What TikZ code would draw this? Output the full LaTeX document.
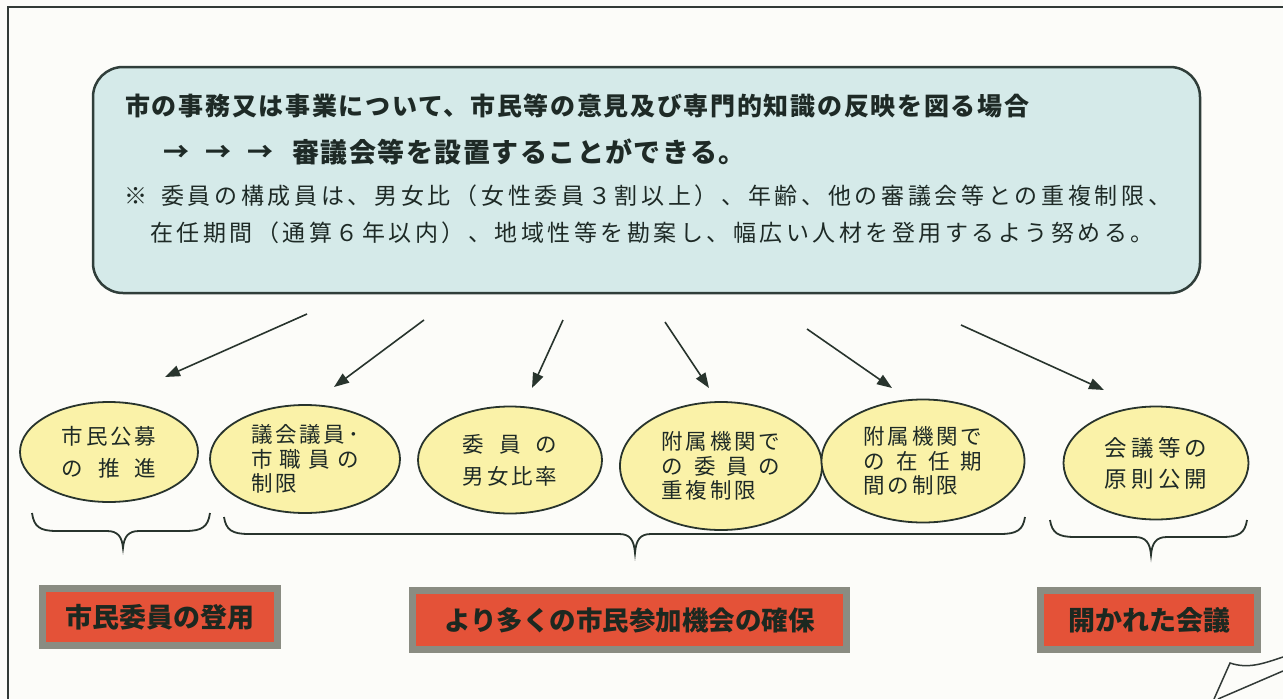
\documentclass[tikz,border=0pt]{standalone}
\usepackage{fontspec}
\usepackage{calc}
\usetikzlibrary{arrows.meta,shapes.geometric}
\newfontfamily\jp{Noto Sans CJK JP}
\newfontfamily\jpA[LetterSpace=6.8]{Noto Sans CJK JP}
\newfontfamily\jpB[LetterSpace=5.5]{Noto Sans CJK JP}
\newfontfamily\jpC[LetterSpace=16]{Noto Sans CJK JP}
\newfontfamily\jpD[LetterSpace=15.2]{Noto Sans CJK JP}
\newfontfamily\jpE[LetterSpace=13]{Noto Sans CJK JP}
\newfontfamily\jpF[LetterSpace=18]{Noto Sans CJK JP}
\newcommand\jrow[2]{\makebox[\widthof{#1}][s]{#2}}
\definecolor{bg}{RGB}{252,252,249}
\definecolor{frame}{RGB}{50,58,55}
\definecolor{topfill}{RGB}{213,234,233}
\definecolor{topline}{RGB}{48,62,58}
\definecolor{ellfill}{RGB}{250,242,168}
\definecolor{ellline}{RGB}{40,52,45}
\definecolor{boxfill}{RGB}{228,82,56}
\definecolor{boxline}{RGB}{138,140,130}
\definecolor{boxtext}{RGB}{28,40,32}
\definecolor{txt}{RGB}{30,42,38}
\newcommand\mybrace[6]{\draw[bracel] (#1,#3) .. controls (#1+2,#4-4) and (#1+8,#4) .. (#1+25,#4) -- (#5-16,#4) .. controls (#5-5,#4) and (#5-1,#4+6) .. (#5,#6) .. controls (#5+1,#4+6) and (#5+5,#4) .. (#5+16,#4) -- (#2-25,#4) .. controls (#2-8,#4) and (#2-2,#4-4) .. (#2,#3);}
\begin{document}
\begin{tikzpicture}[x=1pt,y=-1pt,
  topbox/.style={draw=topline, line width=2.5pt, fill=topfill, rounded corners=30pt, inner sep=0pt},
  ttext/.style={anchor=west, inner sep=0pt, text=txt},
  ellA/.style={ellipse, draw=ellline, line width=1.8pt, fill=ellfill, inner sep=0pt, align=left, text=txt, font=\fontsize{21.5pt}{32pt}\jpE},
  ellB/.style={ellipse, draw=ellline, line width=1.8pt, fill=ellfill, inner sep=0pt, align=left, text=txt, font=\fontsize{21.5pt}{24.5pt}\jpE},
  conn/.style={draw=ellline, line width=1.6pt, -{Triangle[length=15pt,width=11pt]}},
  bracel/.style={draw=ellline, line width=1.8pt},
  resultbox/.style={draw=boxline, line width=7pt, fill=boxfill, inner sep=0pt, text=boxtext, font=\fontsize{27pt}{30pt}\jp\bfseries},
  curl/.style={draw=frame, line width=1.5pt}
]
\path[fill=bg] (0,0) rectangle (1283,699);
\useasboundingbox (0,0) rectangle (1283,699);
\draw[draw=frame, line width=1.8pt] (8,699) -- (8,7) -- (1283,7);

\node[topbox, minimum width=1107pt, minimum height=226pt] (top) at (646.5,180) {};
\node[ttext] (t1) at (125,106) {\fontsize{25pt}{30pt}\jpA\bfseries 市の事務又は事業について、市民等の意見及び専門的知識の反映を図る場合};
\node[ttext] (t2a) at (163,153) {\fontsize{26pt}{30pt}\jp\bfseries →\hspace{16pt}→\hspace{16pt}→};
\node[ttext] (t2) at (292,152) {\fontsize{27pt}{30pt}\jpB\bfseries 審議会等を設置することができる。};
\node[ttext] (t3) at (124,196) {\fontsize{23pt}{26pt}\jpC ※\hspace{14pt}委員の構成員は、男女比（女性委員３割以上）、年齢、他の審議会等との重複制限、};
\node[ttext] (t4) at (150,233) {\fontsize{23pt}{26pt}\jpD 在任期間（通算６年以内）、地域性等を勘案し、幅広い人材を登用するよう努める。};

\node[ellA, minimum width=178pt, minimum height=100pt] (e1) at (109,452) {市民公募\\\jrow{市民公募}{の\hfill 推\hfill 進}};
\node[ellB, minimum width=190pt, minimum height=108pt] (e2) at (305,459) {議会議員･\\\jrow{議会議員･}{市\hfill 職\hfill 員\hfill の}\\制限};
\node[ellA, minimum width=184pt, minimum height=107pt] (e3) at (510,460) {\jrow{男女比率}{委\hfill 員\hfill の}\\男女比率};
\node[ellB, minimum width=202pt, minimum height=128pt] (e4) at (721,466) {附属機関で\\\jrow{附属機関で}{の\hfill 委\hfill 員\hfill の}\\重複制限};
\node[ellB, minimum width=203pt, minimum height=123pt] (e5) at (923,461) {附属機関で\\\jrow{附属機関で}{の\hfill 在\hfill 任\hfill 期}\\間の制限};
\node[ellA, minimum width=185pt, minimum height=113pt, font=\fontsize{22.5pt}{31pt}\jpF] (e6) at (1156,463) {会議等の\\原則公開};

\coordinate (a1s) at (307,314); \coordinate (a1e) at (165,377);
\coordinate (a2s) at (424,320); \coordinate (a2e) at (334,387);
\coordinate (a3s) at (563,320); \coordinate (a3e) at (532,388);
\coordinate (a4s) at (665,322); \coordinate (a4e) at (709,388);
\coordinate (a5s) at (807,329); \coordinate (a5e) at (892,388);
\coordinate (a6s) at (961,325); \coordinate (a6e) at (1104,390);
\foreach \i in {1,...,6} { \draw[conn] (a\i s) -- (a\i e); }

\mybrace{32}{210}{513}{531}{123}{548}
\mybrace{224}{1025}{517}{534}{635}{553}
\mybrace{1050}{1247}{520}{537}{1151}{555}

\node[resultbox, minimum width=235pt, minimum height=57pt] (b1) at (160,617) {市民委員の登用};
\node[resultbox, minimum width=434pt, minimum height=59pt] (b2) at (629.5,620) {\fontsize{26.5pt}{30pt}\selectfont より多くの市民参加機会の確保};
\node[resultbox, minimum width=217pt, minimum height=59pt] (b3) at (1149,620) {開かれた会議};

\draw[curl] (1214,699) -- (1230,663) .. controls (1248,669) and (1262,664) .. (1283,657);
\draw[curl] (1218,699) -- (1283,671);
\end{tikzpicture}
\end{document}
